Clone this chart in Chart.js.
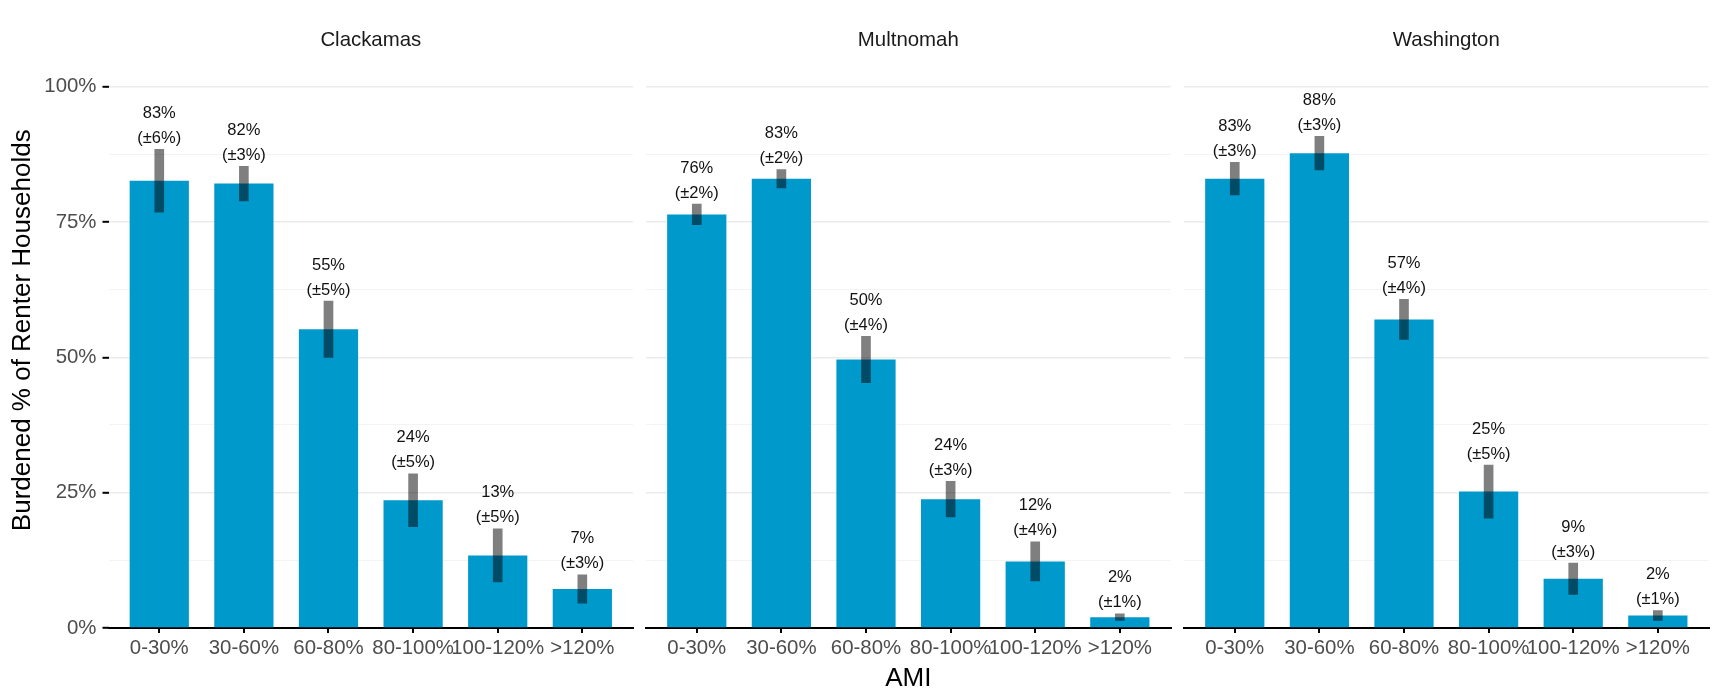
<!DOCTYPE html>
<html><head><meta charset="utf-8">
<script src="https://cdn.jsdelivr.net/npm/chart.js@4.4.1/dist/chart.umd.min.js"></script>
<style>
html,body{margin:0;padding:0;background:#fff;}
#wrap{position:relative;width:1715px;height:688px;background:#fff;}
#wrap canvas{position:absolute;left:0;top:0;}
</style></head><body>
<div id="wrap">
<canvas id="c0" width="1715" height="688"></canvas>
<canvas id="c1" width="1715" height="688"></canvas>
<canvas id="c2" width="1715" height="688"></canvas>
</div>
<script>
const categories = ['0-30%', '30-60%', '60-80%', '80-100%', '100-120%', '>120%'];
const counties = ['Clackamas', 'Multnomah', 'Washington'];
const clackamasValues = [82.6, 82.1, 55.2, 23.6, 13.4, 7.2];
const clackamasMoe = [5.8, 3.2, 5.2, 4.9, 4.9, 2.6];
const multnomahValues = [76.4, 83.0, 49.6, 23.8, 12.3, 2.0];
const multnomahMoe = [1.9, 1.7, 4.3, 3.3, 3.6, 0.6];
const washingtonValues = [83.0, 87.7, 57.0, 25.2, 9.1, 2.3];
const washingtonMoe = [3.0, 3.1, 3.7, 4.9, 2.9, 0.9];
const yTicks = [0, 12.5, 25, 37.5, 50, 62.5, 75, 87.5, 100];
const yTickLabels = ['0%', '', '25%', '', '50%', '', '75%', '', '100%'];

const FONT = "'Liberation Sans', Arial, Helvetica, sans-serif";
Chart.defaults.font.family = FONT;

const panelLefts = [108.5, 646, 1184];
const panelWidth = 524.6;
const W = 1715;

function makeChart(k, values, moe) {
  const pl = panelLefts[k];
  const pr = W - (pl + panelWidth);
  const labelPlugin = {
    id: 'valLabels' + k,
    afterDatasetsDraw(chart) {
      const {ctx, scales} = chart;
      ctx.save();
      ctx.fillStyle = '#111';
      ctx.font = '16.5px ' + FONT;
      ctx.textAlign = 'center';
      ctx.textBaseline = 'middle';
      values.forEach((v, i) => {
        const px = scales.x.getPixelForValue(i);
        const top = scales.y.getPixelForValue(v + moe[i]);
        ctx.fillText('(\u00B1' + Math.round(moe[i]) + '%)', px, top - 11);
        ctx.fillText(Math.round(v) + '%', px, top - 36);
      });
      ctx.restore();
    },
    afterDraw(chart) {
      const {ctx, chartArea} = chart;
      ctx.save();
      ctx.fillStyle = '#1A1A1A';
      ctx.font = '20.4px ' + FONT;
      ctx.textAlign = 'center';
      ctx.textBaseline = 'middle';
      ctx.fillText(counties[k], (chartArea.left + chartArea.right) / 2, 40.5);
      ctx.restore();
    }
  };
  const isMajor = c => c.tick && (c.tick.value % 25 === 0);
  return new Chart(document.getElementById('c' + k), {
    type: 'bar',
    data: {
      datasets: [
        {
          data: values.map((v, i) => ({x: i, y: v})),
          backgroundColor: '#0099CC',
          categoryPercentage: 1,
          barPercentage: 0.7,
          borderWidth: 0,
          order: 1
        },
        {
          data: values.map((v, i) => ({x: i, y: [v - moe[i], v + moe[i]]})),
          backgroundColor: 'rgba(0,0,0,0.5)',
          barThickness: 9,
          grouped: false,
          borderWidth: 0,
          order: 0
        }
      ]
    },
    options: {
      responsive: false,
      animation: false,
      devicePixelRatio: 1,
      layout: {padding: {left: k === 0 ? 0 : pl, right: pr, top: 32.5, bottom: 0}},
      scales: {
        x: {
          type: 'linear', min: -0.6, max: 5.6, offset: false, z: 1,
          afterBuildTicks: s => { s.ticks = categories.map((c, i) => ({value: i})); },
          afterFit: s => { s.height = 60; },
          grid: {display: true, drawOnChartArea: false, drawTicks: true, tickLength: 5, color: '#000', lineWidth: 2, offset: false},
          border: {display: true, color: '#000', width: 2},
          ticks: {autoSkip: false, maxRotation: 0, padding: 3, color: '#4D4D4D', font: {size: 20.4},
                  callback: v => (categories[v] !== undefined ? categories[v] : '')},
          title: {display: k === 1, text: 'AMI', color: '#000', font: {size: 26}, padding: {top: 0, bottom: -6}}
        },
        y: {
          min: 0, max: 110,
          afterBuildTicks: s => { s.ticks = yTicks.map(v => ({value: v})); },
          afterFit: s => { s.width = k === 0 ? 108.5 : 0; },
          grid: {
            color: c => isMajor(c) ? '#EBEBEB' : '#F3F3F3',
            lineWidth: c => isMajor(c) ? 1.6 : 1,
            drawTicks: k === 0, tickLength: 6,
            tickColor: c => isMajor(c) ? '#000' : 'rgba(0,0,0,0)', tickWidth: 2
          },
          border: {display: false},
          ticks: {display: k === 0, autoSkip: false, padding: 6, color: '#4D4D4D', font: {size: 20.4},
                  callback: (v, i) => { const j = yTicks.indexOf(v); return j >= 0 ? yTickLabels[j] : ''; }},
          title: {display: k === 0, text: 'Burdened % of Renter Households', color: '#000', font: {size: 26}, padding: {top: 7, bottom: 0}}
        }
      },
      plugins: {legend: {display: false}, tooltip: {enabled: false}}
    },
    plugins: [labelPlugin]
  });
}

makeChart(0, clackamasValues, clackamasMoe);
makeChart(1, multnomahValues, multnomahMoe);
makeChart(2, washingtonValues, washingtonMoe);
</script>
</body></html>
